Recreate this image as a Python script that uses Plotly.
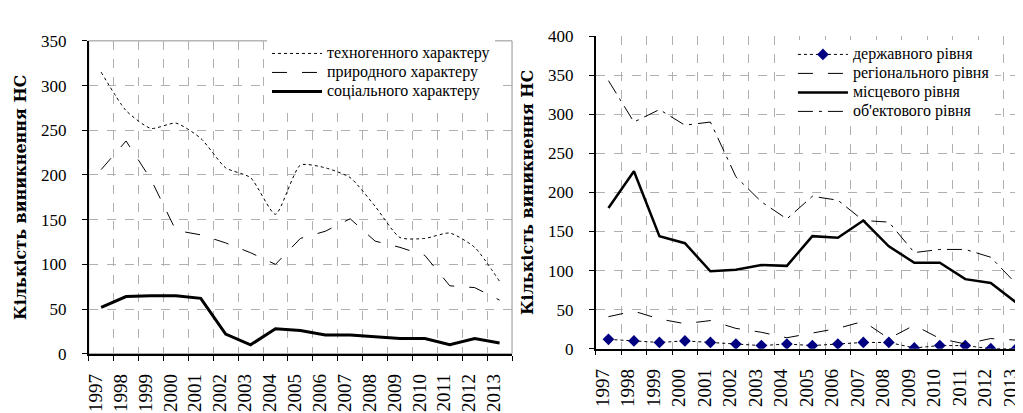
import plotly.graph_objects as go

years = list(range(1997, 2014))
year_labels = [str(y) for y in years]

# Left chart: by nature of emergency
tech = [315, 272, 252, 258, 241, 208, 197, 156, 211, 208, 197, 165, 130, 129, 135, 119, 81]
natur = [206, 238, 195, 138, 133, 124, 113, 100, 129, 137, 151, 126, 119, 110, 76, 74, 60]
social = [52, 64, 65, 65, 62, 22, 10, 28, 26, 21, 21, 19, 17, 17, 10, 17, 12]

# Right chart: by level of emergency
state = [12, 10, 8, 10, 8, 6, 4, 6, 4, 6, 8, 8, 1, 4, 4, 0, 0]
region = [41, 48, 38, 32, 36, 26, 21, 14, 20, 26, 35, 13, 30, 13, 6, 13, 11]
local = [180, 227, 144, 135, 99, 101, 107, 106, 144, 142, 164, 131, 110, 110, 89, 84, 59]
objl = [343, 290, 306, 286, 290, 220, 188, 166, 195, 190, 164, 162, 123, 127, 127, 117, 83]

left_names = ["техногенного характеру", "природного характеру", "соціального характеру"]
right_names = ["державного рівня", "регіонального рівня", "місцевого рівня", "об'ектового рівня"]
ytitle = "Кількість виникнення НС"

W, H = 1023, 413
SERIF = "Times New Roman, Liberation Serif, serif"
SERIF_B = "DejaVu Serif, Liberation Serif, serif"


def lg(name):
    return "<span style='font-size:16px'>" + name + "</span>"


fig = go.Figure()

fig.add_trace(go.Scatter(x=years, y=tech, name=lg(left_names[0]), mode="lines",
                         line=dict(color="black", width=1, dash="dot", shape="spline", smoothing=0.6),
                         xaxis="x", yaxis="y", legend="legend"))
fig.add_trace(go.Scatter(x=years, y=natur, name=lg(left_names[1]), mode="lines",
                         line=dict(color="black", width=1, dash="longdash"),
                         xaxis="x", yaxis="y", legend="legend"))
fig.add_trace(go.Scatter(x=years, y=social, name=lg(left_names[2]), mode="lines",
                         line=dict(color="black", width=3),
                         xaxis="x", yaxis="y", legend="legend"))

fig.add_trace(go.Scatter(x=years, y=state, name=lg(right_names[0]), mode="lines+markers",
                         line=dict(color="black", width=1, dash="dot"),
                         marker=dict(symbol="diamond", size=9, color="#000080"),
                         xaxis="x2", yaxis="y2", legend="legend2"))
fig.add_trace(go.Scatter(x=years, y=region, name=lg(right_names[1]), mode="lines",
                         line=dict(color="black", width=1, dash="longdash"),
                         xaxis="x2", yaxis="y2", legend="legend2"))
fig.add_trace(go.Scatter(x=years, y=local, name=lg(right_names[2]), mode="lines",
                         line=dict(color="black", width=2.5),
                         xaxis="x2", yaxis="y2", legend="legend2"))
fig.add_trace(go.Scatter(x=years, y=objl, name=lg(right_names[3]), mode="lines",
                         line=dict(color="black", width=1, dash="longdashdot"),
                         xaxis="x2", yaxis="y2", legend="legend2"))

bounds = [y - 0.5 for y in years] + [years[-1] + 0.5]
label_pos = [y - 0.22 for y in years]
grid_col = "#b0b0b0"


def xax(domain, anchor):
    return dict(domain=domain, anchor=anchor, range=[years[0] - 0.5, years[-1] + 0.5],
                tickvals=label_pos, ticktext=year_labels, tickangle=-90, ticks="",
                ticklabelstandoff=11,
                showgrid=False, zeroline=False, showline=True, linecolor="black", linewidth=1.5,
                tickfont=dict(family=SERIF, size=19, color="black"),
                minor=dict(tickvals=bounds, showgrid=True, gridcolor=grid_col, griddash="dash",
                           gridwidth=1, ticks="outside", ticklen=5, tickcolor="black"))


def yax(domain, anchor, rng, dtick):
    return dict(domain=domain, anchor=anchor, range=rng, dtick=dtick,
                showgrid=True, gridcolor=grid_col, griddash="dash", gridwidth=1,
                zeroline=False, showline=True, linecolor="black", linewidth=1.5,
                ticks="outside", ticklen=5, tickcolor="black", ticklabelstandoff=12,
                tickfont=dict(family=SERIF, size=17, color="black"),
                title=dict(text=ytitle, font=dict(family=SERIF_B, size=16, color="black",
                                                   weight="bold"), standoff=10))


fig.update_layout(
    width=W, height=H,
    margin=dict(l=0, r=0, t=0, b=0),
    paper_bgcolor="white", plot_bgcolor="white",
    xaxis=xax([77 / W, 502 / W], "y"),
    yaxis=yax([(H - 353) / H, (H - 25) / H], "x", [0, 350], 50),
    xaxis2=xax([586 / W, 1021 / W], "y2"),
    yaxis2=yax([(H - 347.7) / H, (H - 20) / H], "x2", [0, 400], 50),
    legend=dict(x=256 / W, y=(H - 23) / H, xanchor="left", yanchor="top",
                bgcolor="white", borderwidth=0, itemwidth=50, tracegroupgap=0,
                font=dict(family=SERIF, size=11, color="black")),
    legend2=dict(x=784 / W, y=(H - 24) / H, xanchor="left", yanchor="top",
                 bgcolor="white", borderwidth=0, itemwidth=50, tracegroupgap=0,
                 font=dict(family=SERIF, size=11, color="black")),
    showlegend=True,
    shapes=[
        dict(type="rect", xref="x domain", yref="y domain", x0=0, x1=1, y0=0, y1=1,
             line=dict(color="#909090", width=1), layer="below"),
    ],
)

fig.write_html("out.html")
